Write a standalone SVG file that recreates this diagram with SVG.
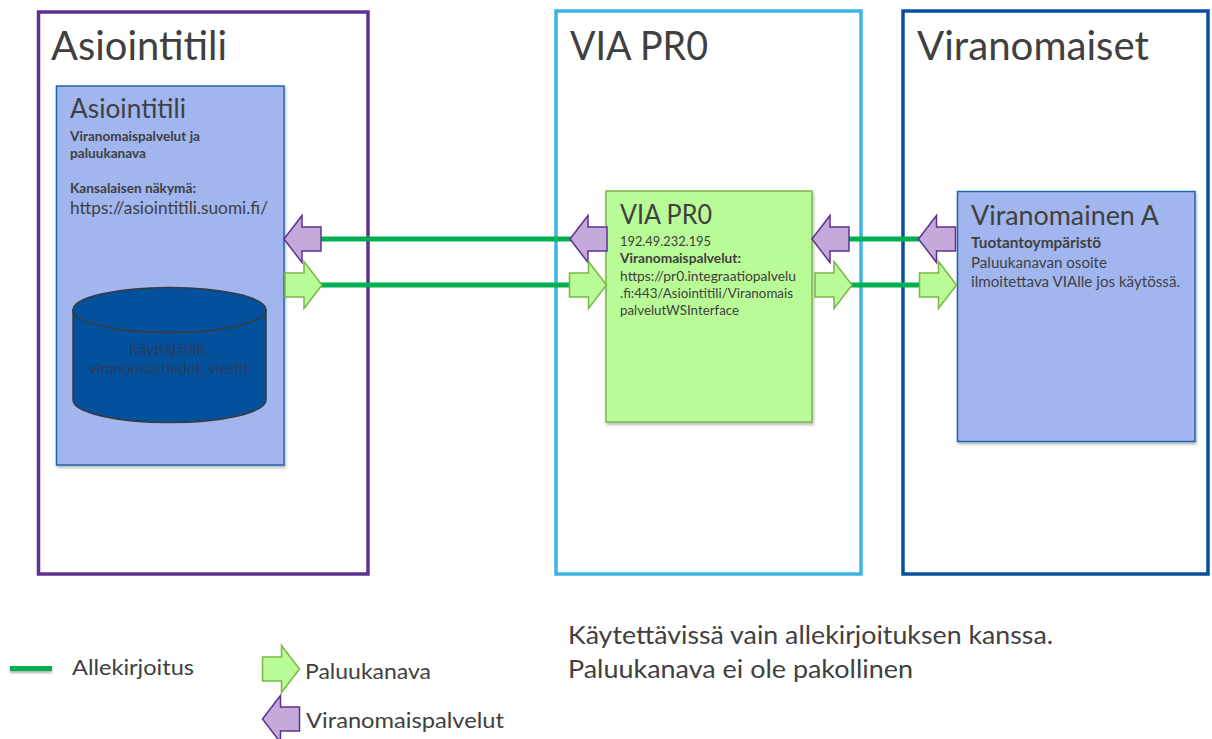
<svg xmlns="http://www.w3.org/2000/svg" xmlns:xlink="http://www.w3.org/1999/xlink" width="1212" height="739" viewBox="0 0 1212 739">
<style>
text{font-family:"Lato","Carlito","Open Sans",sans-serif;fill:#404040}
.b{font-weight:700}
.db{fill:#2c3c5a}
.zone{fill:#fff;stroke-width:3.5}
.box{stroke-width:1.5;filter:url(#sh)}
.blue{fill:#a1b5ef;stroke:#1f66b0}
.lime{fill:#b9fb96;stroke:#7ab648}
.sig{stroke:#00b050;stroke-width:5;fill:none}
.pa{fill:#c3aadb;stroke:#5f3090;stroke-width:1.5;stroke-linejoin:miter}
.ga{fill:#b9fb96;stroke:#7ab648;stroke-width:1.5;stroke-linejoin:miter}
</style>
<defs>
<filter id="sh" x="-5%" y="-5%" width="110%" height="110%"><feDropShadow dx="1" dy="2" stdDeviation="1.5" flood-color="#000" flood-opacity="0.3"/></filter>
<filter id="shl" x="-10%" y="-100%" width="120%" height="300%"><feDropShadow dx="0" dy="2" stdDeviation="1.2" flood-color="#000" flood-opacity="0.3"/></filter>
<path id="g" class="ga" d="M0,-12H19V-23.5L37,0L19,23.5V12H0Z"/>
<path id="p" class="pa" d="M0,0L18,-23.5V-12H37V12H18V23.5Z"/>
</defs>
<rect width="1212" height="739" fill="#fff"/>

<g id="zone-asiointitili">
<rect class="zone" x="38.500" y="12" width="329.500" height="562" stroke="#5f3090"/>
<text x="51" y="60" font-size="41" textLength="176" lengthAdjust="spacingAndGlyphs">Asiointitili</text>
</g>
<g id="zone-via">
<rect class="zone" x="556" y="11" width="305" height="563" stroke="#3cb4e5"/>
<text x="570" y="60" font-size="41" textLength="138" lengthAdjust="spacingAndGlyphs">VIA PR0</text>
</g>
<g id="zone-viranomaiset">
<rect class="zone" x="903" y="11" width="305" height="563" stroke="#0a4f9e"/>
<text x="917" y="60" font-size="41" textLength="232" lengthAdjust="spacingAndGlyphs">Viranomaiset</text>
</g>

<g id="node-asiointitili">
<rect class="box blue" x="56.500" y="86" width="227.500" height="379"/>
<text x="70" y="118" font-size="26" textLength="116" lengthAdjust="spacingAndGlyphs">Asiointitili</text>
<text class="b" x="70" y="141" font-size="12.500" textLength="130" lengthAdjust="spacingAndGlyphs">Viranomaispalvelut ja</text>
<text class="b" x="70" y="158" font-size="12.500" textLength="76" lengthAdjust="spacingAndGlyphs">paluukanava</text>
<text class="b" x="70" y="193" font-size="12.500" textLength="126" lengthAdjust="spacingAndGlyphs">Kansalaisen näkymä:</text>
<text x="70" y="214" font-size="17" textLength="198" lengthAdjust="spacingAndGlyphs">https://asiointitili.suomi.fi/</text>
</g>
<g id="node-tietokanta">
<path d="M73,310V400A96.500,22.500 0 0 0 266,400V310Z" fill="#03509c" stroke="#3a3a3a" stroke-width="1.500"/>
<ellipse cx="169.500" cy="310" rx="96.500" ry="22.500" fill="#03509c" stroke="#3a3a3a" stroke-width="1.500"/>
<text class="db" x="129" y="355" font-size="15" textLength="80" lengthAdjust="spacingAndGlyphs">Käyttäjätilit,</text>
<text class="db" x="89" y="374" font-size="15" textLength="160" lengthAdjust="spacingAndGlyphs">viranomaistiedot, viestit</text>
</g>
<g id="node-via">
<rect class="box lime" x="606" y="191" width="206" height="231"/>
<text x="620" y="224" font-size="26" textLength="92" lengthAdjust="spacingAndGlyphs">VIA PR0</text>
<text x="620" y="246" font-size="13" textLength="91" lengthAdjust="spacingAndGlyphs">192.49.232.195</text>
<text class="b" x="620" y="263" font-size="13" textLength="121" lengthAdjust="spacingAndGlyphs">Viranomaispalvelut:</text>
<text x="620" y="281" font-size="13" textLength="176" lengthAdjust="spacingAndGlyphs">https://pr0.integraatiopalvelu</text>
<text x="620" y="298" font-size="13" textLength="173" lengthAdjust="spacingAndGlyphs">.fi:443/Asiointitili/Viranomais</text>
<text x="620" y="315" font-size="13" textLength="119" lengthAdjust="spacingAndGlyphs">palvelutWSInterface</text>
</g>
<g id="node-viranomainen-a">
<rect class="box blue" x="957.500" y="191.500" width="237.500" height="250"/>
<text x="971" y="225" font-size="26" textLength="188" lengthAdjust="spacingAndGlyphs">Viranomainen A</text>
<text class="b" x="971" y="248" font-size="14.500" textLength="130" lengthAdjust="spacingAndGlyphs">Tuotantoympäristö</text>
<text x="971" y="268" font-size="14.500" textLength="136" lengthAdjust="spacingAndGlyphs">Paluukanavan osoite</text>
<text x="971" y="287" font-size="14.500" textLength="209" lengthAdjust="spacingAndGlyphs">ilmoitettava VIAlle jos käytössä.</text>
</g>

<g id="connectors">
<path class="sig" d="M320,239H571"/>
<path class="sig" d="M320,285H570"/>
<path class="sig" d="M849,239H920"/>
<path class="sig" d="M851,285H921"/>
<use href="#p" x="284" y="239"/>
<use href="#g" x="285" y="285"/>
<use href="#p" x="570" y="239"/>
<use href="#g" x="569.500" y="285"/>
<use href="#p" x="812" y="239"/>
<use href="#g" x="815" y="285"/>
<use href="#p" x="918.500" y="239"/>
<use href="#g" x="919.500" y="285"/>
</g>

<g id="legend-allekirjoitus">
<rect x="10" y="666" width="42" height="5" fill="#00b050" filter="url(#shl)"/>
<text x="72" y="675" font-size="22" textLength="122" lengthAdjust="spacingAndGlyphs">Allekirjoitus</text>
</g>
<g id="legend-paluukanava">
<use href="#g" x="262.500" y="669"/>
<text x="305" y="679" font-size="22" textLength="126" lengthAdjust="spacingAndGlyphs">Paluukanava</text>
</g>
<g id="legend-viranomaispalvelut">
<use href="#p" x="262.500" y="719"/>
<text x="306" y="728" font-size="22" textLength="198" lengthAdjust="spacingAndGlyphs">Viranomaispalvelut</text>
</g>
<g id="note">
<text x="568" y="644" font-size="25" textLength="485" lengthAdjust="spacingAndGlyphs">Käytettävissä vain allekirjoituksen kanssa.</text>
<text x="568" y="678" font-size="25" textLength="345" lengthAdjust="spacingAndGlyphs">Paluukanava ei ole pakollinen</text>
</g>
</svg>
